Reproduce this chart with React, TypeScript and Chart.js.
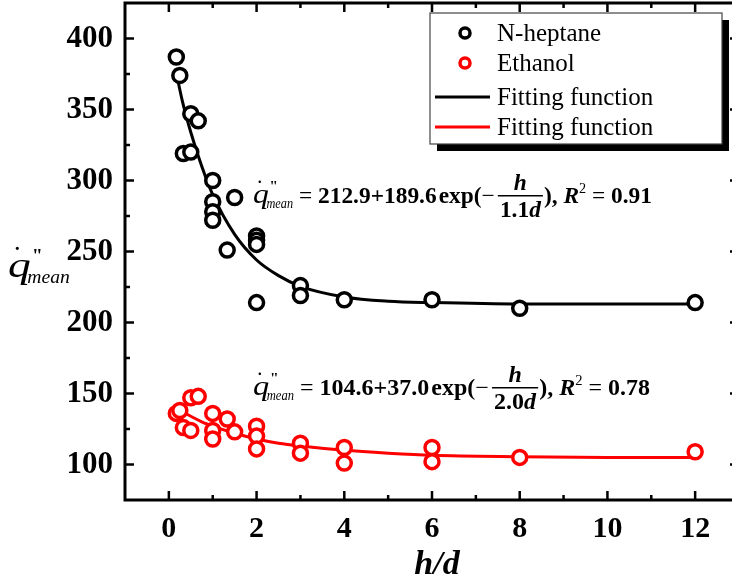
import React, { useEffect, useRef } from 'react';
import { Chart, registerables } from 'chart.js';
Chart.register(...registerables);

// ---- data ----
const heptaneX = [0.17, 0.25, 0.33, 0.5, 0.5, 0.67, 1, 1, 1, 1, 1.33, 1.5, 2, 2, 2, 2, 3, 3, 4, 6, 8, 12];
const heptaneY = [387, 374, 319, 347, 320, 342, 300, 285, 278, 272, 251, 288, 261, 258, 255, 214, 226, 219, 216, 216, 210, 214];
const ethanolX = [0.17, 0.25, 0.33, 0.5, 0.5, 0.67, 1, 1, 1, 1.33, 1.5, 2, 2, 2, 3, 3, 4, 4, 6, 6, 8, 12];
const ethanolY = [136, 138, 126, 147, 124, 148, 136, 124, 118, 132, 123, 127, 120, 111, 115, 108, 112, 101, 112, 102, 105, 109];
const fitX = [0.15, 0.3, 0.5, 0.75, 1, 1.5, 2, 2.5, 3, 4, 5, 6, 8, 10, 12];
const heptaneFit = [379, 357, 334, 310, 290, 262, 244, 233, 225.5, 218, 215, 214, 213, 213, 213];
const ethanolFit = [139, 137, 134, 130, 127, 122, 118, 115, 113, 110, 108, 106.5, 105.5, 105, 105];
const xMajorTicks = [0, 2, 4, 6, 8, 10, 12];
const xMinorTicks = [1, 3, 5, 7, 9, 11];
const yMajorTicks = [100, 150, 200, 250, 300, 350, 400];
const yMinorTicks = [125, 175, 225, 275, 325, 375];
const legendLabels = ['N-heptane', 'Ethanol', 'Fitting function', 'Fitting function'];
const eqHeptane = { a: '212.9', b: '189.6', den: '1.1', r2: '0.91' };
const eqEthanol = { a: '104.6', b: '37.0', den: '2.0', r2: '0.78' };
const xTitle = 'h/d';

const SERIF = '"Liberation Serif", "Times New Roman", Times, serif';
const BLACK = '#000000';
const RED = '#ff0000';

// draws q-dot''' with subscript "mean"; returns its width
function drawQ(ctx: CanvasRenderingContext2D, x: number, base: number, size: number, qScaleX: number, subScaleX: number, draw: boolean): number {
  ctx.save();
  ctx.font = `italic ${size}px ${SERIF}`;
  const qW = ctx.measureText('q').width * qScaleX;
  ctx.textAlign = 'left';
  ctx.textBaseline = 'alphabetic';
  if (draw) {
    ctx.save();
    ctx.translate(x, base);
    ctx.scale(qScaleX, 1);
    ctx.fillText('q', 0, 0);
    ctx.restore();
    ctx.font = `bold ${size * 0.6}px ${SERIF}`;
    ctx.fillText('˙', x + qW * 0.25, base - size * 0.42);
    ctx.font = `bold ${size * 0.55}px ${SERIF}`;
    ctx.fillText('"', x + qW * 1.05, base - size * 0.43);
  }
  ctx.font = `italic ${size * 0.56}px ${SERIF}`;
  const mW = ctx.measureText('mean').width * subScaleX;
  if (draw) {
    ctx.save();
    ctx.translate(x + qW * 0.85, base + size * 0.18);
    ctx.scale(subScaleX, 1);
    ctx.fillText('mean', 0, 0);
    ctx.restore();
  }
  ctx.restore();
  return qW * 0.85 + mW;
}

type Run = { t: string; f: string; dy?: number; gap?: number } | { num: string; den: string[]; fn: string };

function runsWidth(ctx: CanvasRenderingContext2D, runs: Run[]): number {
  let w = 0;
  for (const r of runs) {
    if ('num' in r) {
      ctx.font = r.fn;
      const dw = ctx.measureText(r.den[0]).width;
      ctx.font = `bold italic 23px ${SERIF}`;
      const dd = ctx.measureText(r.den[1]).width;
      w += dw + dd + 6;
    } else {
      ctx.font = r.f;
      w += ctx.measureText(r.t).width + (r.gap || 0);
    }
  }
  return w;
}

function drawEquation(ctx: CanvasRenderingContext2D, x0: number, base: number, endX: number, eq: typeof eqHeptane) {
  const B = `bold 23px ${SERIF}`;
  const R = `23px ${SERIF}`;
  const runs: Run[] = [
    { t: ' = ', f: R },
    { t: eq.a, f: B },
    { t: '+', f: B },
    { t: eq.b, f: B, gap: 2 },
    { t: 'exp(', f: B },
    { t: '−', f: R, gap: 2 },
    { num: 'h', den: [eq.den, 'd'], fn: B },
    { t: '), ', f: B },
    { t: 'R', f: `bold italic 23px ${SERIF}` },
    { t: '2', f: `14px ${SERIF}`, dy: -10 },
    { t: ' = ', f: R },
    { t: eq.r2, f: B },
  ];
  ctx.save();
  ctx.fillStyle = BLACK;
  ctx.textBaseline = 'alphabetic';
  ctx.textAlign = 'left';
  const qW = drawQ(ctx, 0, 0, 27, 1.15, 0.8, false);
  const total = qW + runsWidth(ctx, runs);
  const s = (endX - x0) / total;
  ctx.translate(x0, base);
  ctx.scale(s, 1);
  drawQ(ctx, 0, 0, 27, 1.15, 0.8, true);
  let x = qW;
  for (const r of runs) {
    if ('num' in r) {
      ctx.font = r.fn;
      const dw = ctx.measureText(r.den[0]).width;
      ctx.font = `bold italic 23px ${SERIF}`;
      const dd = ctx.measureText(r.den[1]).width;
      const w = dw + dd + 6;
      ctx.fillRect(x + 1, -8, w - 2, 1.5);
      const nw = ctx.measureText(r.num).width;
      ctx.fillText(r.num, x + (w - nw) / 2, -13);
      ctx.font = r.fn;
      ctx.fillText(r.den[0], x + 3, 14);
      ctx.font = `bold italic 23px ${SERIF}`;
      ctx.fillText(r.den[1], x + 3 + dw, 14);
      x += w;
    } else {
      ctx.font = r.f;
      ctx.fillText(r.t, x, r.dy || 0);
      x += ctx.measureText(r.t).width + (r.gap || 0);
    }
  }
  ctx.restore();
}

const framePlugin = {
  id: 'frameTicks',
  afterDatasetsDraw(chart: any) {
    const { ctx, chartArea } = chart;
    const xs = chart.scales.x;
    const ys = chart.scales.y;
    const { left, right, top, bottom } = chartArea;
    ctx.save();
    ctx.strokeStyle = BLACK;
    ctx.lineWidth = 2.5;
    const tick = (x1: number, y1: number, x2: number, y2: number) => {
      ctx.beginPath();
      ctx.moveTo(x1, y1);
      ctx.lineTo(x2, y2);
      ctx.stroke();
    };
    for (const v of xMajorTicks) {
      const p = xs.getPixelForValue(v);
      tick(p, bottom, p, bottom - 9);
      tick(p, top, p, top + 9);
    }
    for (const v of xMinorTicks) {
      const p = xs.getPixelForValue(v);
      tick(p, bottom, p, bottom - 5);
      tick(p, top, p, top + 5);
    }
    for (const v of yMajorTicks) {
      const p = ys.getPixelForValue(v);
      tick(left, p, left + 9, p);
      tick(right, p, right - 9, p);
    }
    for (const v of yMinorTicks) {
      const p = ys.getPixelForValue(v);
      tick(left, p, left + 5, p);
      tick(right, p, right - 5, p);
    }
    ctx.lineWidth = 3;
    ctx.strokeRect(left, top, right - left, bottom - top);
    ctx.restore();
  },
  afterDraw(chart: any) {
    const { ctx } = chart;
    ctx.save();
    // axis titles
    ctx.fillStyle = BLACK;
    ctx.font = `bold italic 34px ${SERIF}`;
    ctx.textAlign = 'center';
    ctx.textBaseline = 'alphabetic';
    ctx.fillText(xTitle, 437, 574);
    drawQ(ctx, 8, 277, 35, 1.3, 1, true);

    // equations
    drawEquation(ctx, 253, 203, 652, eqHeptane);
    drawEquation(ctx, 253, 395, 650, eqEthanol);

    // legend
    const lx = 430, ly = 13, lw = 292, lh = 131;
    ctx.fillStyle = BLACK;
    ctx.fillRect(lx + 7, ly + 7, lw, lh);
    ctx.fillStyle = '#ffffff';
    ctx.fillRect(lx, ly, lw, lh);
    ctx.strokeStyle = '#444444';
    ctx.lineWidth = 1.2;
    ctx.strokeRect(lx, ly, lw, lh);
    const ds = chart.data.datasets;
    const rows = [33, 63, 97, 127];
    ctx.font = `25px ${SERIF}`;
    ctx.textAlign = 'left';
    ctx.textBaseline = 'middle';
    for (let i = 0; i < 4; i++) {
      const d = ds[i];
      const y = rows[i];
      if (i < 2) {
        ctx.beginPath();
        ctx.arc(465, y, 5, 0, Math.PI * 2);
        ctx.fillStyle = '#fff';
        ctx.fill();
        ctx.lineWidth = 3.5;
        ctx.strokeStyle = d.borderColor;
        ctx.stroke();
      } else {
        ctx.beginPath();
        ctx.moveTo(435, y);
        ctx.lineTo(490, y);
        ctx.lineWidth = 3;
        ctx.strokeStyle = d.borderColor;
        ctx.stroke();
      }
      ctx.fillStyle = BLACK;
      ctx.fillText(legendLabels[i], 497, y + 1);
    }
    ctx.restore();
  },
};

export default function App() {
  const ref = useRef<HTMLCanvasElement | null>(null);
  useEffect(() => {
    document.body.style.margin = '0';
    const canvas = ref.current;
    if (!canvas) return;
    const toPts = (xs: number[], ys: number[]) => xs.map((x, i) => ({ x, y: ys[i] }));
    const chart = new Chart(canvas, {
      type: 'scatter',
      data: {
        datasets: [
          {
            label: legendLabels[0],
            data: toPts(heptaneX, heptaneY),
            borderColor: BLACK,
            backgroundColor: '#ffffff',
            pointRadius: 7,
            pointBorderWidth: 3.5,
            pointBackgroundColor: '#ffffff',
            pointBorderColor: BLACK,
            showLine: false,
            order: 1,
          },
          {
            label: legendLabels[1],
            data: toPts(ethanolX, ethanolY),
            borderColor: RED,
            backgroundColor: '#ffffff',
            pointRadius: 7,
            pointBorderWidth: 3.5,
            pointBackgroundColor: '#ffffff',
            pointBorderColor: RED,
            showLine: false,
            order: 1,
          },
          {
            label: legendLabels[2],
            data: toPts(fitX, heptaneFit),
            borderColor: BLACK,
            borderWidth: 3,
            pointRadius: 0,
            showLine: true,
            tension: 0.4,
            cubicInterpolationMode: 'monotone',
            order: 2,
          },
          {
            label: legendLabels[3],
            data: toPts(fitX, ethanolFit),
            borderColor: RED,
            borderWidth: 3,
            pointRadius: 0,
            showLine: true,
            tension: 0.4,
            cubicInterpolationMode: 'monotone',
            order: 2,
          },
        ],
      } as any,
      options: {
        responsive: false,
        devicePixelRatio: 1,
        animation: false,
        events: [],
        layout: { autoPadding: false, padding: { left: 0, top: 3, right: 13, bottom: 0 } },
        plugins: { legend: { display: false }, tooltip: { enabled: false }, title: { display: false } },
        scales: {
          x: {
            type: 'linear',
            min: -1,
            max: 13,
            grid: { display: false, drawTicks: false },
            border: { display: false },
            afterBuildTicks: (s: any) => {
              s.ticks = xMajorTicks.map((v) => ({ value: v }));
            },
            afterFit: (s: any) => {
              s.height = 81;
              s.paddingLeft = 0;
              s.paddingRight = 0;
            },
            ticks: {
              autoSkip: false,
              maxRotation: 0,
              padding: 11,
              color: BLACK,
              font: { family: SERIF, size: 30, weight: 'bold' },
              callback: (v: any) => String(v),
            },
          },
          y: {
            type: 'linear',
            min: 75,
            max: 425,
            grid: { display: false, drawTicks: false },
            border: { display: false },
            afterBuildTicks: (s: any) => {
              s.ticks = yMajorTicks.map((v) => ({ value: v }));
            },
            afterFit: (s: any) => {
              s.width = 125;
              s.paddingTop = 0;
              s.paddingBottom = 0;
            },
            ticks: {
              autoSkip: false,
              padding: 12,
              color: BLACK,
              font: { family: SERIF, size: 31, weight: 'bold' },
              callback: (v: any) => String(v),
            },
          },
        },
      } as any,
      plugins: [framePlugin],
    });
    return () => chart.destroy();
  }, []);
  return (
    <div style={{ position: 'absolute', left: 0, top: 0, width: 732, height: 581, overflow: 'hidden', background: '#fff' }}>
      <canvas ref={ref} width={752} height={581} style={{ display: 'block', width: 752, height: 581 }} />
    </div>
  );
}
